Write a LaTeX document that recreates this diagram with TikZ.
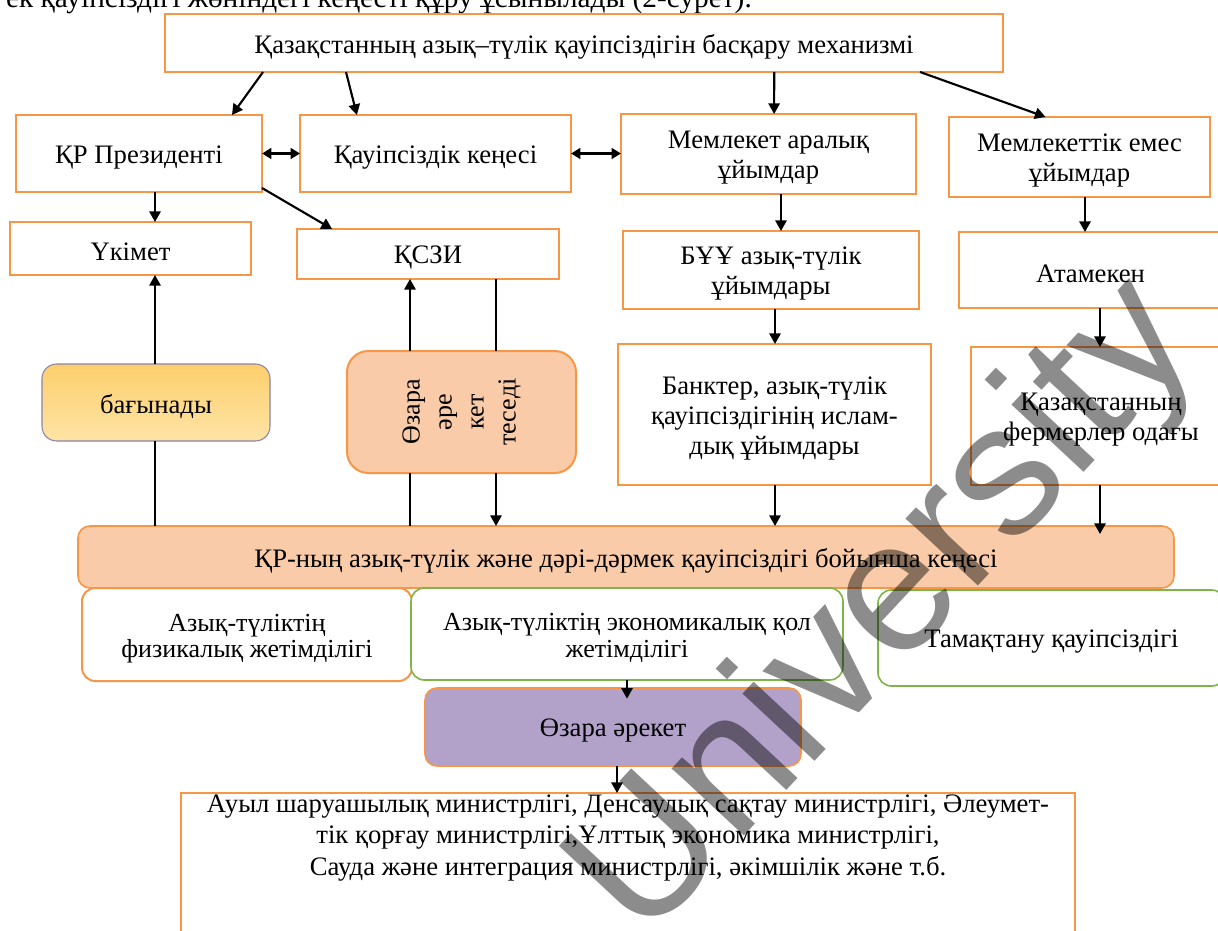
\documentclass[tikz,border=0pt]{standalone}
\usepackage{fontspec}
\setmainfont{Liberation Serif}
\setsansfont{Liberation Sans}
\usetikzlibrary{arrows.meta,calc}

\definecolor{orng}{HTML}{F79646}
\definecolor{peach}{HTML}{F9CBA8}
\definecolor{grn}{HTML}{7DB547}
\definecolor{purp}{HTML}{B2A2C9}
\definecolor{ylwA}{HTML}{FCCF6C}
\definecolor{ylwB}{HTML}{FEE4A6}
\definecolor{pgray}{HTML}{8F82A8}

% \bx{name}{x1}{y1}{x2}{y2}{box style}{text style}{text}
\newcommand\bx[8]{%
  \node[#6, minimum width={(#4-#2)*0.75pt}, minimum height={(#5-#3)*0.75pt}] (#1) at ({(#2+#4)/2},{(#3+#5)/2}) {};
  \node[base, #7] (#1-t) at ([yshift=-2.8pt]#1.center) {#8};}

\begin{document}
\begin{tikzpicture}[x=0.75pt,y=-0.75pt,
  base/.style={align=center, inner sep=0pt, outer sep=0pt, font=\fontsize{20}{22.5}\selectfont},
  obox/.style={base, draw=orng, line width=1.8pt, fill=white},
  rorng/.style={base, draw=orng, line width=1.5pt, fill=white, rounded corners=10pt},
  rgrn/.style={base, draw=grn, line width=1.2pt, fill=white, rounded corners=10pt},
  council/.style={base, draw=orng, line width=1.2pt, fill=peach, rounded corners=9pt},
  ozarabox/.style={base, draw=orng, line width=1.5pt, fill=peach, rounded corners=16pt},
  bagbox/.style={base, draw=pgray, line width=0.8pt, top color=ylwA, bottom color=ylwB, rounded corners=11pt},
  purpbox/.style={base, draw=orng, line width=1.2pt, fill=purp, rounded corners=9pt},
  normal/.style={},
  tight/.style={font=\fontsize{19.5}{19.5}\selectfont},
  econfont/.style={font=\fontsize{19.5}{20.5}\selectfont},
  conn/.style={line width=1.6pt, -{Triangle[length=8pt,width=8.5pt]}},
  plain/.style={line width=1.6pt},
  dbl/.style={line width=1.8pt, {Triangle[length=7pt,width=8pt]}-{Triangle[length=7pt,width=8pt]}},
  wmark/.style={font=\sffamily\fontsize{140}{140}\selectfont, text=black, opacity=0.45, inner sep=0pt}
]
\useasboundingbox (0,0) rectangle (1218,931);
\fill[white] (0,0) rectangle (1218,931);

% cut-off line of the page text above the figure
\node[anchor=base east, inner sep=0pt, font=\fontsize{22}{24}\selectfont] (pagetext) at (752,8) {ек қауіпсіздігі жөніндегі кеңесті құру ұсынылады (2-сурет).};

% boxes
\bx{top}{165}{14}{1003}{72}{obox}{normal}{Қазақстанның азық–түлік қауіпсіздігін басқару механизмі}
\bx{pres}{16}{115}{262}{192}{obox}{normal}{ҚР Президенті}
\bx{kenes}{300}{115}{571}{192}{obox}{normal}{Қауіпсіздік кеңесі}
\bx{memaral}{621}{114}{916}{194}{obox}{normal}{Мемлекет аралық\\ұйымдар}
\bx{memes}{949}{117}{1210}{197}{obox}{normal}{Мемлекеттік емес\\ұйымдар}
\bx{ukimet}{10}{222}{251}{275}{obox}{normal}{Үкімет}
\bx{kszi}{297}{229}{559}{279}{obox}{normal}{ҚСЗИ}
\bx{buu}{623}{231}{919}{309}{obox}{normal}{БҰҰ азық-түлік\\ұйымдары}
\bx{atameken}{959}{232}{1222}{308}{obox}{normal}{Атамекен}
\bx{bagyn}{42}{364}{270}{441}{bagbox}{normal}{бағынады}
\bx{ozara}{347}{351}{576}{473}{ozarabox}{normal}{}
\node[base, rotate=90, font=\fontsize{19.5}{24}\selectfont] (ozaratxt) at (ozara.center) {Өзара\\әре\\кет\\теседі};
\bx{banks}{618}{344}{931}{485}{obox}{normal}{Банктер, азық-түлік\\қауіпсіздігінің ислам-\\дық ұйымдары}
\bx{fermer}{971}{347}{1231}{485}{obox}{normal}{Қазақстанның\\фермерлер одағы}
\bx{council}{78}{526}{1174}{588}{council}{normal}{ҚР-ның азық-түлік және дәрі-дәрмек қауіпсіздігі бойынша кеңесі}
\bx{phys}{82}{588}{412}{681}{rorng}{tight}{Азық-түліктің\\физикалық жетімділігі}
\bx{econ}{411}{588}{843}{680}{rgrn}{econfont}{Азық-түліктің экономикалық қол\\жетімділігі}
\bx{tamak}{878}{590}{1225}{686}{rgrn}{normal}{Тамақтану қауіпсіздігі}
\bx{ozaraek}{425}{688}{801}{766}{purpbox}{normal}{Өзара әрекет}
\bx{bottom}{181}{793}{1075}{945}{obox}{normal}{}
\node[base, font=\fontsize{20}{23.3}\selectfont] (bottomtxt) at (628,838) {Ауыл шаруашылық министрлігі, Денсаулық сақтау министрлігі, Әлеумет-\\тік қорғау министрлігі,Ұлттық экономика министрлігі,\\Сауда және интеграция министрлігі, әкімшілік және т.б.};

% x positions of vertical connectors
\coordinate (x155) at (155,0);
\coordinate (x410) at (410,0);
\coordinate (x496) at (496,0);
\coordinate (x775) at (775,0);
\coordinate (x781) at (781,0);
\coordinate (x1085) at (1085,0);
\coordinate (x1100) at (1100,0);
\coordinate (x627) at (627,0);
\coordinate (x617) at (617,0);

% from the top box
\draw[conn] ($(top.south west)!0.117!(top.south east)$) -- ($(pres.north west)!0.878!(pres.north east)$);
\draw[conn] ($(top.south west)!0.216!(top.south east)$) -- ($(kenes.north west)!0.21!(kenes.north east)$);
\draw[conn] ($(top.south west)!0.727!(top.south east)$) -- ($(memaral.north west)!0.519!(memaral.north east)$);
\draw[conn] ($(top.south west)!0.901!(top.south east)$) -- ($(memes.north west)!0.37!(memes.north east)$);

% horizontal double arrows
\draw[dbl] (pres.east) -- (kenes.west);
\draw[dbl] (kenes.east) -- (kenes.east -| memaral.west);

% second level
\draw[conn] (pres.south -| x155) -- (ukimet.north -| x155);
\draw[conn] ($(pres.south east)+(0,-4)$) -- ($(kszi.north west)!0.134!(kszi.north east)$);
\draw[conn] (memaral.south -| x781) -- (buu.north -| x781);
\draw[conn] (memes.south -| x1085) -- (atameken.north -| x1085);
\draw[conn] (buu.south -| x775) -- (banks.north -| x775);
\draw[conn] (atameken.south -| x1100) -- (fermer.north -| x1100);

% бағынады
\draw[plain] (council.north -| x155) -- (bagyn.south -| x155);
\draw[conn] (bagyn.north -| x155) -- (ukimet.south -| x155);

% өзара әрекеттеседі
\draw[plain] (council.north -| x410) -- (ozara.south -| x410);
\draw[conn] (ozara.north -| x410) -- (kszi.south -| x410);
\draw[plain] (kszi.south -| x496) -- (ozara.north -| x496);
\draw[conn] (ozara.south -| x496) -- (council.north -| x496);

% into the council
\draw[conn] (banks.south -| x775) -- (council.north -| x775);
\draw[conn, shorten >=-6pt] (fermer.south -| x1100) -- (council.north -| x1100);

% lower part
\draw[conn, shorten >=-8pt] (econ.south -| x627) -- (ozaraek.north -| x627);
\draw[conn] (ozaraek.south -| x617) -- (bottom.north -| x617);

% watermark
\node[wmark, rotate=47] (wm) at (888,612) {University};
\end{tikzpicture}
\end{document}
